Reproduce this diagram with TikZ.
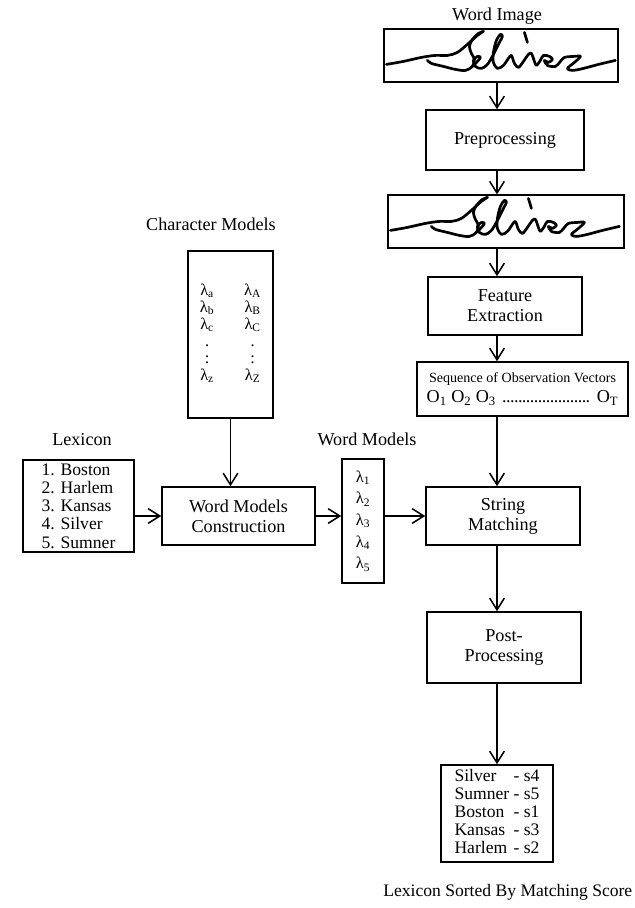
\documentclass[tikz,border=0pt]{standalone}
\usepackage{fontspec}
\setmainfont{Liberation Serif}
\usetikzlibrary{arrows.meta}

% handwritten word, drawn in the box's own frame
\newcommand{\silverword}{%
  \draw [ink] plot [smooth, tension=0.55] coordinates {(3,36) (20,33) (38,29) (52,27) (64,27) (74,24) (85,15) (94,7) (100,3)};
  \draw [ink] plot [smooth, tension=0.55] coordinates {(100,3) (95,5) (89,11) (86,18) (88,25) (91,31) (89,38) (82,42) (72,41) (60,38) (48,35) (44,32)};
  \draw [ink] plot [smooth, tension=0.55] coordinates {(89,38) (94,33) (97,29) (94,28) (90,32) (92,38) (98,40) (104,36) (110,26) (116,14) (119,8) (117,6) (113,12) (110,24) (110,34) (114,40) (120,37) (125,30) (128,27) (131,35) (135,39) (140,33) (145,26) (148,25) (151,33) (153,37) (157,32) (160,27) (166,28) (169,31) (165,34) (161,32) (164,37) (172,38) (177,33) (181,29) (190,28) (197,28) (191,34) (184,40) (189,42) (200,40) (215,36) (232,32)};
  \draw [ink] (141,4) -- (144,14);
}

\begin{document}
\begin{tikzpicture}
[x=0.03cm, y=-0.03cm, >={Straight Barb[length=3.5mm, width=4.4mm]}, line width=1.3pt,
 box/.style={draw, inner sep=0, align=center, font=\fontsize{15.5}{17}\selectfont},
 lbl/.style={inner sep=0, font=\fontsize{15.5}{17}\selectfont},
 ink/.style={line width=2.3pt, line cap=round, line join=round}]
\useasboundingbox (0, 0) rectangle (634, 908);
\coordinate (axis) at (497, 0);

% right column
\node (wi) [lbl] at (497, 16) {Word Image};
\node (img1) [draw, line width=1pt, minimum width=7.02cm, minimum height=1.59cm] at (501, 55.5) {};
\begin{scope}[shift={(img1.north west)}]
\silverword
\end{scope}
\node (pre) [box, minimum width=4.74cm, minimum height=1.8cm] at (505, 140) {Preprocessing};
\node (img2) [draw, line width=1pt, minimum width=7.08cm, minimum height=1.59cm] at (506, 221.5) {};
\begin{scope}[shift={(img2.north west)}]
\silverword
\end{scope}
\node (fe) [box, minimum width=4.62cm, minimum height=1.74cm] at (505, 306) {Feature\\Extraction};
\node (seq) [box, minimum width=6.33cm, minimum height=1.62cm] at (522.5, 389)
  {{\fontsize{12}{14}\selectfont Sequence of Observation Vectors}\\
   \makebox[5.75cm]{O\textsubscript{1} O\textsubscript{2} O\textsubscript{3} \leaders\hbox to 3.4pt{\hss.\hss}\hfill\ O\textsubscript{T}}};
\node (sm) [box, minimum width=4.62cm, minimum height=1.74cm] at (503, 516) {String\\Matching};
\node (post) [box, minimum width=4.62cm, minimum height=2.13cm] at (504, 647.5) {Post-\\Processing};
\node (res) [box, minimum width=3.36cm, minimum height=2.91cm, font=\fontsize{15}{15.4}\selectfont] at (497, 813.5)
  {\begin{tabular}{@{}l@{ }l@{}}
   Silver & - s4\\ Sumner & - s5\\ Boston & - s1\\ Kansas & - s3\\ Harlem & - s2
   \end{tabular}};
\node (cap) [lbl, anchor=east, font=\fontsize{15}{17}\selectfont] at (633, 892) {Lexicon Sorted By Matching Score};

% left part
\node (cml) [lbl] at (211, 224) {Character Models};
\node (cm) [box, minimum width=2.55cm, minimum height=5.01cm, font=\fontsize{14}{14.5}\selectfont] at (230.5, 334.5)
  {\begin{tabular}{@{}c@{\hspace{0.9cm}}c@{}}
   λ\textsubscript{a} & λ\textsubscript{A}\\ λ\textsubscript{b} & λ\textsubscript{B}\\ λ\textsubscript{c} & λ\textsubscript{C}\\
   . & .\\ : & :\\ λ\textsubscript{z} & λ\textsubscript{Z}
   \end{tabular}};
\node (wmc) [box, minimum width=4.59cm, minimum height=1.74cm] at (238.5, 516) {Word Models\\Construction};
\node (lexl) [lbl] at (82, 440) {Lexicon};
\node (lex) [box, align=left, minimum width=3.33cm, minimum height=2.76cm, font=\fontsize{15}{15.6}\selectfont] at (78.5, 506)
  {1. Boston\\ 2. Harlem\\ 3. Kansas\\ 4. Silver\\ 5. Sumner};
\node (wml) [lbl] at (367, 439) {Word Models};
\node (wm) [box, minimum width=1.26cm, minimum height=3.72cm, font=\fontsize{14}{18.5}\selectfont] at (363, 521)
  {λ\textsubscript{1}\\ λ\textsubscript{2}\\ λ\textsubscript{3}\\ λ\textsubscript{4}\\ λ\textsubscript{5}};

% arrows
\draw [->] (img1.south -| axis) -- (pre.north -| axis);
\draw [->] (pre.south -| axis) -- (img2.north -| axis);
\draw [->] (img2.south -| axis) -- (fe.north -| axis);
\draw [->] (fe.south -| axis) -- (seq.north -| axis);
\draw [->] (seq.south -| axis) -- (sm.north -| axis);
\draw [->] (sm.south -| axis) -- (post.north -| axis);
\draw [->] (post.south -| axis) -- (res.north -| axis);
\draw [->] (cm.south) -- (cm.south |- wmc.north);
\draw [->] (lex.east |- wmc) -- (wmc.west);
\draw [->] (wmc.east) -- (wmc.east -| wm.west);
\draw [->] (wm.east |- sm) -- (sm.west);
\end{tikzpicture}
\end{document}
